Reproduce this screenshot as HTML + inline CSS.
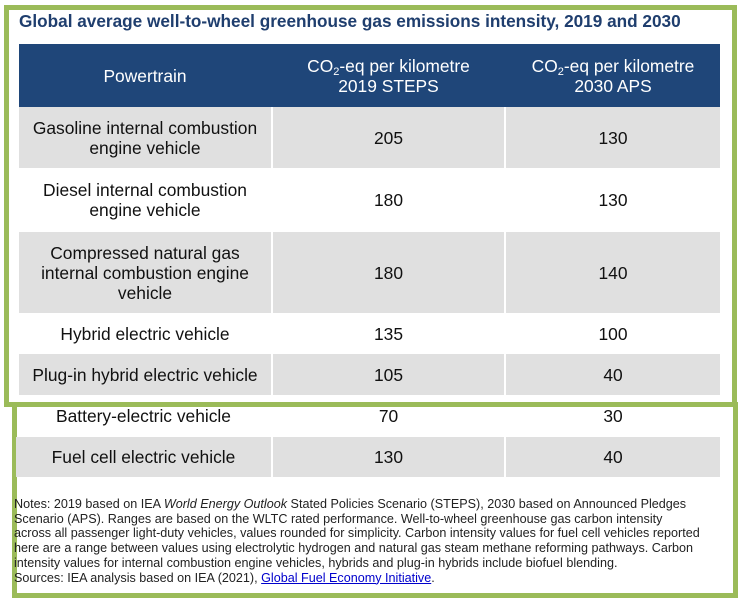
<!DOCTYPE html>
<html><head><style>
body{margin:0;width:738px;height:600px;background:#fff;position:relative;overflow:hidden;font-family:"Liberation Sans",Arial,sans-serif;color:#111}
.b{position:absolute;border:5px solid #9bbb59;box-sizing:border-box}
.title{position:absolute;left:19px;top:11px;font-weight:bold;font-size:17.2px;color:#1f3e6e;white-space:nowrap}
.r{position:absolute;left:19px;width:701px;display:flex;font-size:17.4px;line-height:20px}
.r>div{display:flex;align-items:center;justify-content:center;text-align:center;box-sizing:border-box}
.c1{width:252px}.c2{width:233px;border-left:2px solid #fff}.c3{width:216px;border-left:2px solid #fff}
.g{background:#e0e0e0}
.h{background:#1f4679;color:#fff}
sub{font-size:11px;vertical-align:-3px;line-height:0}
.notes{position:absolute;left:14px;top:497px;width:740px;font-family:"Liberation Sans Narrow","Liberation Sans",sans-serif;font-size:12.6px;line-height:14.7px;color:#222;white-space:nowrap}
a{color:#00c}
</style></head><body>
<div class="b" style="left:12px;top:402px;width:726px;height:196px"></div>
<div class="title">Global average well-to-wheel greenhouse gas emissions intensity, 2019 and 2030</div>
<div class="r h" style="top:44px;height:63px"><div class="c1">Powertrain</div><div class="c2" style="border-color:#1f4679"><span>CO<sub>2</sub>-eq per kilometre<br>2019 STEPS</span></div><div class="c3" style="border-color:#1f4679"><span>CO<sub>2</sub>-eq per kilometre<br>2030 APS</span></div></div>
<div class="r g" style="top:107px;height:61px"><div class="c1">Gasoline internal combustion<br>engine vehicle</div><div class="c2">205</div><div class="c3">130</div></div>
<div class="r" style="top:168px;height:64px"><div class="c1">Diesel internal combustion<br>engine vehicle</div><div class="c2">180</div><div class="c3">130</div></div>
<div class="r g" style="top:232px;height:81px"><div class="c1">Compressed natural gas<br>internal combustion engine<br>vehicle</div><div class="c2">180</div><div class="c3">140</div></div>
<div class="r" style="top:313px;height:41px"><div class="c1">Hybrid electric vehicle</div><div class="c2">135</div><div class="c3">100</div></div>
<div class="r g" style="top:354px;height:41px"><div class="c1">Plug-in hybrid electric vehicle</div><div class="c2">105</div><div class="c3">40</div></div>
<div class="r" style="top:395px;height:42px;left:16px;width:704px"><div class="c1" style="width:255px">Battery-electric vehicle</div><div class="c2">70</div><div class="c3">30</div></div>
<div class="r g" style="top:437px;height:40px;left:16px;width:704px"><div class="c1" style="width:255px">Fuel cell electric vehicle</div><div class="c2">130</div><div class="c3">40</div></div>
<div class="b" style="left:4px;top:5px;width:733px;height:402px"></div>
<div class="notes">Notes: 2019 based on IEA <i>World Energy Outlook</i> Stated Policies Scenario (STEPS), 2030 based on Announced Pledges<br>Scenario (APS). Ranges are based on the WLTC rated performance. Well-to-wheel greenhouse gas carbon intensity<br>across all passenger light-duty vehicles, values rounded for simplicity. Carbon intensity values for fuel cell vehicles reported<br>here are a range between values using electrolytic hydrogen and natural gas steam methane reforming pathways. Carbon<br>intensity values for internal combustion engine vehicles, hybrids and plug-in hybrids include biofuel blending.<br>Sources: IEA analysis based on IEA (2021), <a href="#">Global Fuel Economy Initiative</a>.</div>
</body></html>
